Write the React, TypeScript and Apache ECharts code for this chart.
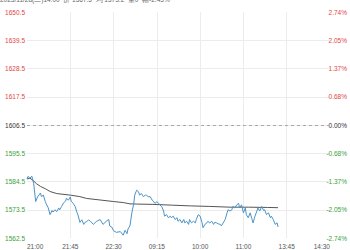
import React, { useEffect, useRef } from "react";
import * as echarts from "echarts";

const titleText = "2023/11/28(二)14:00  价 1567.5  均 1573.2  量0  幅-2.43%";
const prevClose = 1606.5;
const yMin = 1562.5;
const yMax = 1650.5;
const yStep = 11;
const timeLabels = ["21:00", "21:45", "22:30", "09:15", "10:00", "11:00", "13:45", "14:30"];
const minuteSpan = 315;
const labelStep = 45;

const priceMinutes = [0, 1, 3, 5, 7, 9, 11, 14, 15, 17, 19, 20, 22, 24, 26, 27, 29, 31, 33, 34, 36, 38, 40, 41, 43, 45, 46, 48, 50, 52, 53, 55, 57, 59, 60, 62, 64, 66, 69, 72, 76, 79, 83, 85, 86, 88, 90, 93, 97, 100, 102, 104, 105, 107, 109, 111, 112, 114, 116, 117, 119, 121, 123, 124, 126, 128, 130, 131, 133, 135, 137, 138, 140, 142, 143, 145, 147, 149, 150, 152, 154, 156, 157, 159, 161, 163, 164, 166, 168, 169, 171, 173, 175, 176, 178, 180, 182, 183, 185, 187, 188, 190, 192, 194, 195, 197, 199, 201, 202, 204, 206, 208, 209, 211, 213, 214, 216, 218, 220, 221, 223, 225, 227, 228, 230, 232, 234, 235, 237, 239, 240, 242, 244, 246, 247, 249, 251, 253, 254, 256, 258, 260, 261];
const prices = [1585.5, 1586.5, 1585.8, 1586.6, 1583.6, 1576.7, 1578.5, 1580.0, 1578.6, 1579.2, 1576.7, 1575.8, 1574.3, 1571.6, 1573.2, 1572.6, 1573.5, 1572.8, 1574.2, 1573.5, 1574.8, 1576.2, 1576.8, 1578.0, 1577.2, 1578.5, 1576.8, 1576.0, 1574.8, 1572.4, 1571.5, 1568.6, 1569.6, 1567.8, 1568.5, 1568.9, 1569.5, 1569.0, 1567.8, 1568.9, 1569.7, 1567.8, 1569.2, 1569.7, 1567.2, 1566.8, 1565.3, 1564.7, 1565.0, 1563.6, 1565.5, 1564.2, 1566.0, 1567.2, 1572.3, 1576.0, 1579.2, 1581.1, 1580.5, 1579.2, 1579.8, 1578.6, 1579.2, 1579.2, 1578.6, 1578.6, 1577.3, 1577.0, 1576.0, 1576.6, 1576.0, 1575.4, 1574.8, 1573.0, 1571.0, 1571.6, 1570.4, 1571.0, 1570.4, 1571.0, 1569.7, 1570.4, 1569.0, 1569.7, 1568.4, 1569.7, 1568.4, 1569.0, 1567.8, 1569.7, 1568.4, 1569.0, 1568.4, 1569.7, 1571.6, 1571.0, 1568.4, 1566.5, 1567.8, 1568.4, 1569.0, 1568.4, 1569.0, 1567.8, 1568.6, 1568.4, 1568.0, 1567.8, 1567.2, 1568.4, 1569.7, 1572.3, 1573.5, 1573.0, 1573.5, 1574.8, 1574.2, 1575.4, 1576.0, 1574.2, 1575.4, 1572.3, 1574.2, 1571.6, 1570.4, 1572.3, 1569.7, 1568.4, 1571.0, 1573.0, 1574.2, 1573.0, 1574.8, 1573.2, 1573.5, 1571.6, 1572.3, 1570.4, 1571.0, 1569.7, 1567.8, 1568.4, 1566.8];

const avgMinutes = [0, 3, 6, 10, 14, 19, 24, 31, 45, 55, 62, 76, 90, 100, 107, 115, 130, 150, 170, 190, 211, 230, 250, 261];
const avgPrices = [1585.5, 1585.8, 1585.0, 1583.6, 1582.6, 1581.7, 1580.6, 1579.8, 1579.2, 1578.6, 1577.9, 1577.3, 1576.7, 1576.3, 1575.8, 1575.7, 1575.6, 1575.3, 1575.0, 1574.8, 1574.5, 1574.5, 1574.4, 1574.3];

const RED = "#e0463f";
const GREEN = "#3a9e3a";
const NEUTRAL = "#333333";

function labelColor(v: number) {
  const d = Math.round((v - prevClose) * 100);
  if (d > 0) return RED;
  if (d < 0) return GREEN;
  return NEUTRAL;
}

export default function App() {
  const ref = useRef<HTMLDivElement>(null);
  useEffect(() => {
    if (!ref.current) return;
    const chart = echarts.init(ref.current, undefined, { renderer: "svg" });
    const priceData = priceMinutes.map((m, i) => [m, prices[i]]);
    const avgData = avgMinutes.map((m, i) => [m, avgPrices[i]]);
    const fontFamily = "Liberation Sans, Arial, sans-serif";
    chart.setOption({
      animation: false,
      backgroundColor: "#ffffff",
      grid: { left: 27, right: 20, top: 12, bottom: 6, containLabel: false },
      graphic: [
        {
          type: "text",
          left: 0,
          top: -4,
          style: { text: titleText, fill: "#666", font: `6.5px ${fontFamily}` },
        },
      ],
      xAxis: {
        type: "value",
        min: 0,
        max: minuteSpan,
        interval: labelStep,
        axisLine: { show: false },
        axisTick: { show: false },
        splitLine: { show: true, showMinLine: false, showMaxLine: false, lineStyle: { color: "#ececec", width: 1 } },
        axisLabel: {
          fontSize: 6.5,
          fontFamily,
          color: "#555",
          margin: 5,
          alignMinLabel: "left",
          alignMaxLabel: "right",
          formatter: (v: number) => timeLabels[Math.round(v / labelStep)] ?? "",
        },
      },
      yAxis: [
        {
          type: "value",
          min: yMin,
          max: yMax,
          interval: yStep,
          position: "left",
          axisLine: { show: false },
          axisTick: { show: false },
          splitLine: { show: true, showMinLine: false, showMaxLine: false, lineStyle: { color: "#ececec", width: 1 } },
          axisLabel: {
            fontSize: 6.5,
            fontFamily,
            margin: 2,
            color: (v: any) => labelColor(Number(v)),
            formatter: (v: number) => v.toFixed(1),
          },
        },
        {
          type: "value",
          min: yMin,
          max: yMax,
          interval: yStep,
          position: "right",
          axisLine: { show: false },
          axisTick: { show: false },
          splitLine: { show: false },
          axisLabel: {
            fontSize: 6.5,
            fontFamily,
            margin: 17,
            align: "right",
            color: (v: any) => labelColor(Number(v)),
            formatter: (v: number) => (((v - prevClose) / prevClose) * 100).toFixed(2) + "%",
          },
        },
      ],
      series: [
        {
          type: "line",
          name: "price",
          data: priceData,
          showSymbol: false,
          symbol: "none",
          lineStyle: { color: "#4b93c6", width: 1 },
          silent: true,
          z: 3,
          markLine: {
            silent: true,
            symbol: "none",
            label: { show: false },
            lineStyle: { color: "#aaaaaa", type: [3, 3], width: 1 },
            data: [{ yAxis: prevClose }],
          },
        },
        {
          type: "line",
          name: "avg",
          data: avgData,
          showSymbol: false,
          symbol: "none",
          smooth: false,
          lineStyle: { color: "#555555", width: 1 },
          silent: true,
          z: 2,
        },
      ],
    });
    return () => chart.dispose();
  }, []);
  return <div ref={ref} style={{ position: "fixed", left: 0, top: 0, width: 350, height: 250 }} />;
}
